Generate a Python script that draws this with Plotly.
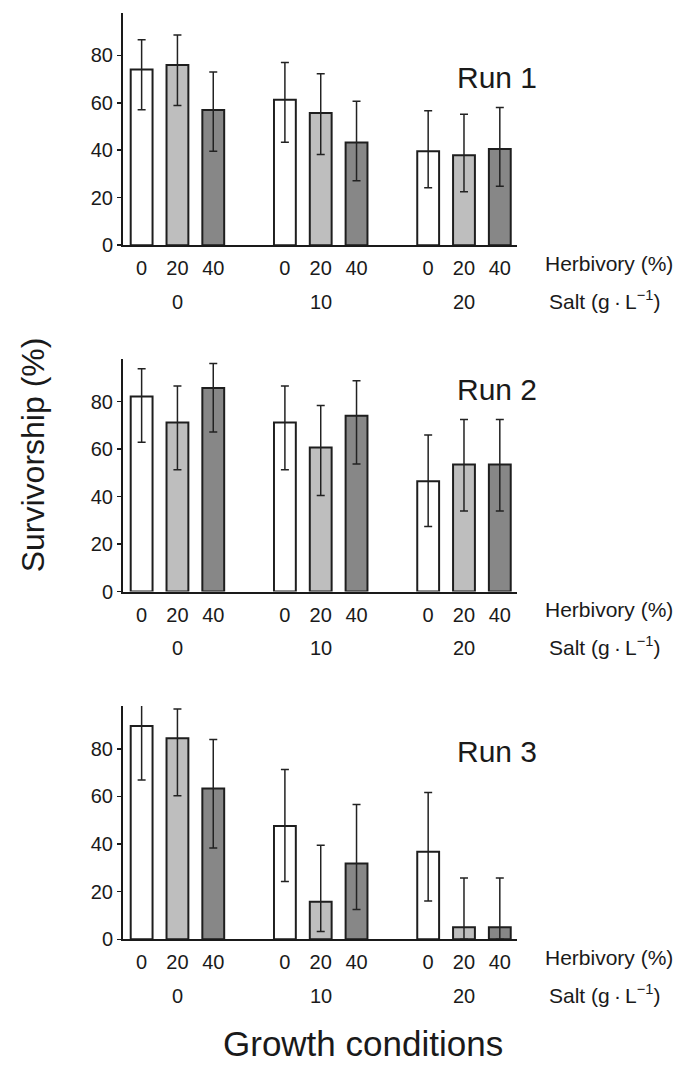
import plotly.graph_objects as go

# ---------------- data ----------------
herbivory = ["0", "20", "40"]          # herbivory levels (%)
salt = ["0", "10", "20"]               # salt levels (g/L)
runs = ["Run 1", "Run 2", "Run 3"]

run1_mean = [74.0, 75.9, 57.0, 61.3, 55.7, 43.3, 39.6, 37.9, 40.5]
run1_upper = [86.6, 88.5, 73.0, 77.0, 72.2, 60.6, 56.6, 55.2, 58.0]
run1_lower = [57.1, 58.8, 39.6, 43.4, 38.2, 27.1, 24.2, 22.5, 24.8]

run2_mean = [82.2, 71.2, 85.8, 71.2, 60.7, 74.1, 46.5, 53.5, 53.5]
run2_upper = [93.9, 86.6, 96.1, 86.6, 78.4, 88.8, 66.0, 72.5, 72.5]
run2_lower = [62.9, 51.3, 67.2, 51.3, 40.5, 53.8, 27.4, 34.0, 34.0]

run3_mean = [89.6, 84.5, 63.4, 47.6, 15.8, 31.8, 36.8, 5.1, 5.1]
run3_upper = [100.0, 96.8, 83.9, 71.3, 39.5, 56.6, 61.7, 25.8, 25.8]
run3_lower = [66.9, 60.3, 38.4, 24.3, 3.3, 12.5, 16.1, 0.0, 0.0]

y_ticks = [0, 20, 40, 60, 80]

# ---------------- layout helpers ----------------
W, H = 694, 1078
FONT = "Liberation Sans, Arial, sans-serif"
TXT = "#1a1a1a"
bar_colors = ["#ffffff", "#bebebe", "#878787"]

means = [run1_mean, run2_mean, run3_mean]
uppers = [run1_upper, run2_upper, run3_upper]
lowers = [run1_lower, run2_lower, run3_lower]

# bar positions: 3 groups of 3 with a gap of one slot between groups
positions = [g * 4 + h for g in range(len(salt)) for h in range(len(herbivory))]
colors = [bar_colors[h] for g in range(len(salt)) for h in range(len(herbivory))]
ticktext = [herbivory[h] for g in range(len(salt)) for h in range(len(herbivory))]

# panel pixel geometry (top of axis, zero baseline)
panel_px = [(12.7, 247.7), (362.7, 597.7), (713.3, 949.0)]
x_left_px, x_right_px = 123.0, 517.0
run_label_val = [70.6, 85.3, 79.0]

fig = go.Figure()
annotations = []

for i in range(3):
    ax = "" if i == 0 else str(i + 1)
    m = means[i]
    up = [u - v for u, v in zip(uppers[i], m)]
    lo = [v - l for v, l in zip(m, lowers[i])]
    fig.add_trace(go.Bar(
        x=positions, y=m,
        xaxis="x" + ax, yaxis="y" + ax,
        width=0.61,
        marker=dict(color=colors, line=dict(color="#1e1e1e", width=2)),
        error_y=dict(type="data", symmetric=False, array=up, arrayminus=lo,
                     color="#222222", thickness=1.5, width=4),
        showlegend=False, hoverinfo="skip",
    ))
    top, base = panel_px[i]
    ydom = [1 - base / H, 1 - top / H]
    xdom = [x_left_px / W, x_right_px / W]
    fig.update_layout(**{
        "xaxis" + ax: dict(
            domain=xdom, range=[-0.52, 10.48], anchor="y" + ax,
            tickvals=positions, ticktext=ticktext, ticks="",
            showline=True, linecolor="#1a1a1a", linewidth=2,
            showgrid=False, zeroline=False,
            tickfont=dict(family=FONT, size=20, color=TXT),
            ticklabelstandoff=4,
        ),
        "yaxis" + ax: dict(
            domain=ydom, range=[0, 98], anchor="x" + ax,
            tickvals=y_ticks, ticks="outside", ticklen=4, tickwidth=1.5,
            tickcolor="#1a1a1a",
            showline=True, linecolor="#1a1a1a", linewidth=2,
            showgrid=False, zeroline=False,
            tickfont=dict(family=FONT, size=20, color=TXT),
        ),
    })
    # Run label
    annotations.append(dict(
        text=runs[i], xref="paper", yref="y" + ax,
        x=455 / W, y=run_label_val[i], xanchor="left", yanchor="middle",
        showarrow=False, font=dict(family=FONT, size=30, color=TXT)))
    off = base - 247.7
    # Herbivory axis name
    annotations.append(dict(
        text="Herbivory (%)", xref="paper", yref="paper",
        x=543 / W, y=1 - (266 + off) / H, xanchor="left", yanchor="middle",
        showarrow=False, font=dict(family=FONT, size=21, color=TXT)))
    # Salt levels
    for g in range(len(salt)):
        annotations.append(dict(
            text=salt[g], xref="x" + ax, yref="paper",
            x=g * 4 + 1, y=1 - (305 + off) / H, xanchor="center", yanchor="middle",
            showarrow=False, font=dict(family=FONT, size=20, color=TXT)))
    annotations.append(dict(
        text="Salt (g\u2009\u00b7\u2009L<sup>\u22121</sup>)", xref="paper", yref="paper",
        x=547 / W, y=1 - (303 + off) / H, xanchor="left", yanchor="middle",
        showarrow=False, font=dict(family=FONT, size=21, color=TXT)))

annotations.append(dict(
    text="Survivorship (%)", xref="paper", yref="paper",
    x=33 / W, y=1 - 460 / H, xanchor="center", yanchor="middle", textangle=-90,
    showarrow=False, font=dict(family=FONT, size=32, color=TXT)))
annotations.append(dict(
    text="Growth conditions", xref="paper", yref="paper",
    x=363 / W, y=1 - 1054 / H, xanchor="center", yanchor="middle",
    showarrow=False, font=dict(family=FONT, size=35, color=TXT)))

fig.update_layout(
    width=W, height=H, autosize=False,
    margin=dict(l=0, r=0, t=0, b=0),
    paper_bgcolor="white", plot_bgcolor="white",
    bargap=0, annotations=annotations,
    font=dict(family=FONT, color=TXT),
)

fig.write_html("out.html", include_plotlyjs=True,
               config={"displayModeBar": False, "staticPlot": True},
               post_script="document.body.style.margin='0';document.body.style.overflow='hidden';")
